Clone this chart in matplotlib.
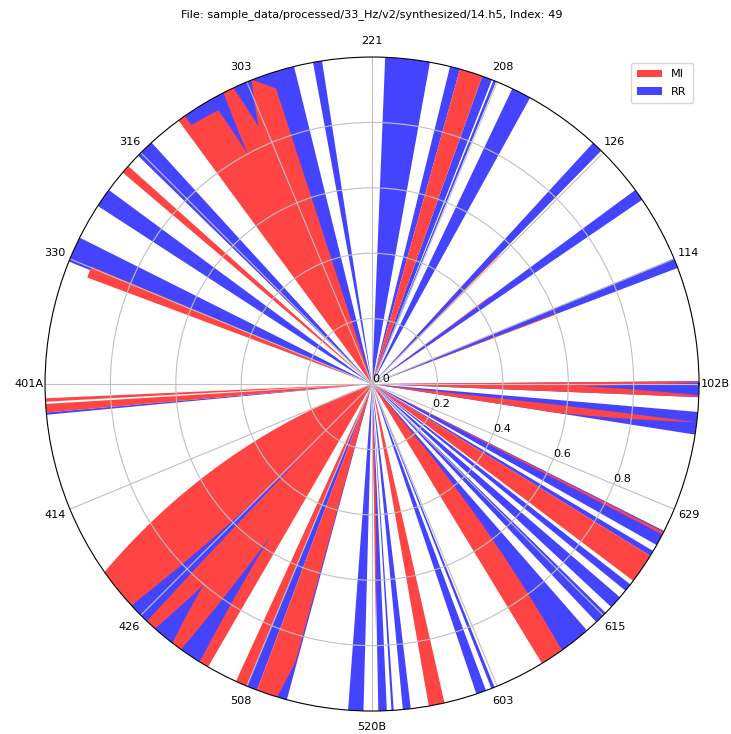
import numpy as np
import matplotlib
matplotlib.use("Agg")
import matplotlib.pyplot as plt

title = "File: sample_data/processed/33_Hz/v2/synthesized/14.h5, Index: 49"
tick_labels = ["102B", "114", "126", "208", "221", "303", "316", "330",
               "401A", "414", "426", "508", "520B", "603", "615", "629"]
r_ticks = [0.0, 0.2, 0.4, 0.6, 0.8]

# RR series: angle (deg) / radius breakpoints
RR_theta = [-8.9, -8.9, -4.9, -4.9,
            -2.3, -2.3, 0.5, 0.5,
            20.8, 20.8, 22.6, 22.6,
            34.3, 34.3, 36.4, 36.4,
            45.5, 45.5, 47.5, 47.5,
            61.1, 61.1, 64.6, 64.6,
            67.7, 67.7, 68.2, 68.2,
            68.5, 68.5, 70.3, 70.3,
            74.4, 74.4, 76.2, 76.2,
            79.8, 79.8, 87.7, 87.7,
            98.8, 98.8, 100.4, 100.4,
            103.8, 103.8, 125.0, 125.0,
            132.4, 132.4, 135.7, 135.7,
            143.6, 143.6, 147.0, 147.0,
            153.4, 153.4, 158.0, 158.0,
            185.0, 185.0, 185.4, 185.4,
            222.6, 222.6, 238.2, 238.2,
            247.4, 247.4, 249.4, 249.4,
            253.1, 253.1, 254.9, 254.9,
            265.8, 265.8, 268.5, 268.5,
            271.1, 271.1, 272.6, 272.6,
            273.4, 273.4, 273.8, 273.8,
            275.4, 275.4, 276.8, 276.8,
            288.6, 288.6, 290.4, 290.4,
            291.4, 291.4, 292.0, 292.0,
            305.5, 305.5, 311.1, 311.1,
            313.3, 313.3, 315.6, 315.6,
            317.0, 317.0, 319.3, 319.3,
            320.8, 320.8, 322.2, 322.2,
            328.3, 328.3, 329.3, 329.3,
            330.5, 330.5, 333.3, 333.3]
RR_r = [0, 1, 1, 0,
        0, 1, 1, 0,
        0, 1, 1, 0,
        0, 1, 1, 0,
        0, 1, 1, 0,
        0, 1, 1, 0,
        0, 1, 1, 0,
        0, 1, 1, 0,
        0, 1, 1, 0,
        0, 1, 1, 0,
        0, 1, 1, 0,
        0, 1, 1, 0,
        0, 1, 1, 0,
        0, 1, 1, 0,
        0, 1, 1, 0,
        0, 1, 1, 0,
        0, 1, 1, 0,
        0, 1, 1, 0,
        0, 1, 1, 0,
        0, 1, 1, 0,
        0, 1, 1, 0,
        0, 1, 1, 0,
        0, 1, 1, 0,
        0, 1, 1, 0,
        0, 1, 1, 0,
        0, 1, 1, 0,
        0, 1, 1, 0,
        0, 1, 1, 0,
        0, 1, 1, 0,
        0, 1, 1, 0,
        0, 1, 1, 0]

# MI series: angle (deg) / radius breakpoints
MI_theta = [-8.9, -8.9, -6.7, -6.4, -6.4,
            -2.3, -2.3, -2.0, -0.55, 0.25, 0.5, 0.5,
            20.7, 20.7, 21.0, 21.0,
            36.4, 36.4, 36.7, 36.7,
            45.4, 45.4, 45.7, 45.7,
            70.3, 70.3, 74.4, 74.4,
            108.0, 108.0, 111.6, 113.8, 115.1, 117.0, 118.4, 119.3, 124.9, 124.9, 126.3, 126.3,
            138.2, 138.2, 139.7, 139.7,
            157.3, 157.3, 159.5, 159.5,
            182.5, 182.5, 183.1, 183.1,
            183.5, 183.5, 185.0, 185.0,
            200.0, 215.1, 222.6, 225.8, 226.5, 228.4, 230.0, 232.4, 234.25, 236.3, 238.2, 239.9, 239.9,
            245.4, 245.4, 247.4, 247.4,
            249.4, 249.4, 253.1, 254.6, 254.6,
            270.9, 270.9, 272.6,
            280.0, 280.0, 282.8, 282.8,
            301.3, 301.3, 305.5, 309.5, 309.5,
            323.0, 323.0, 328.3, 328.3,
            332.6, 332.6, 333.1, 333.1]
MI_r = [0, 0.55, 1.0, 0.55, 0,
        0, 1, 1, 0.64, 1, 1, 0,
        0, 0.6, 0.6, 0,
        0, 0.45, 0.45, 0,
        0, 0.55, 0.55, 0,
        0, 1, 1, 0,
        0, 0.95, 1.0, 0.86, 1.0, 1.0, 0.8, 0.96, 0.965, 1.0, 1.0, 0,
        0, 1, 1, 0,
        0, 0.93, 0.93, 0,
        0, 1, 1, 0,
        0, 1, 1, 0,
        0, 1.0, 1.0, 0.3, 1.0, 1.0, 0.8, 1.0, 1.0, 0.56, 1.0, 1.0, 0,
        0, 1, 1, 0,
        0, 1, 1, 0.88, 0,
        0, 0.75, 0,
        0, 1, 1, 0,
        0, 1, 1, 0.3, 0,
        0, 1, 1, 0,
        0, 1, 1, 0]

FS = 8.1
fig = plt.figure(figsize=(7.31, 7.34), dpi=100)
ax = fig.add_axes([0.0616, 0.0313, 0.8947, 0.891], projection="polar")

rr = ax.fill(np.deg2rad(RR_theta), RR_r, color="#4444ff", lw=0, zorder=1.0)[0]
mi = ax.fill(np.deg2rad(MI_theta), MI_r, color="#ff4444", lw=0, zorder=1.1)[0]
for p in (rr, mi):
    p.get_path()._interpolation_steps = 60

ax.set_ylim(0, 1)
ax.set_xticks(np.deg2rad(np.arange(len(tick_labels)) * 22.5))
ax.set_xticklabels(tick_labels, fontsize=FS)
ax.tick_params(axis="x", pad=1)
ax.set_yticks(r_ticks)
ax.set_yticklabels([f"{v:.1f}" for v in r_ticks], fontsize=FS)
ax.set_rlabel_position(-22.5)
ax.grid(True, color="#c0c0c0", lw=0.8)

ax.legend([mi, rr], ["MI", "RR"], loc="upper right", fontsize=FS,
          labelspacing=0.65, handlelength=2.2, borderpad=0.6)
fig.text(0.5089, 1 - 15 / 734, title, ha="center", va="center", fontsize=FS)

fig.savefig("out.png", dpi=100)
